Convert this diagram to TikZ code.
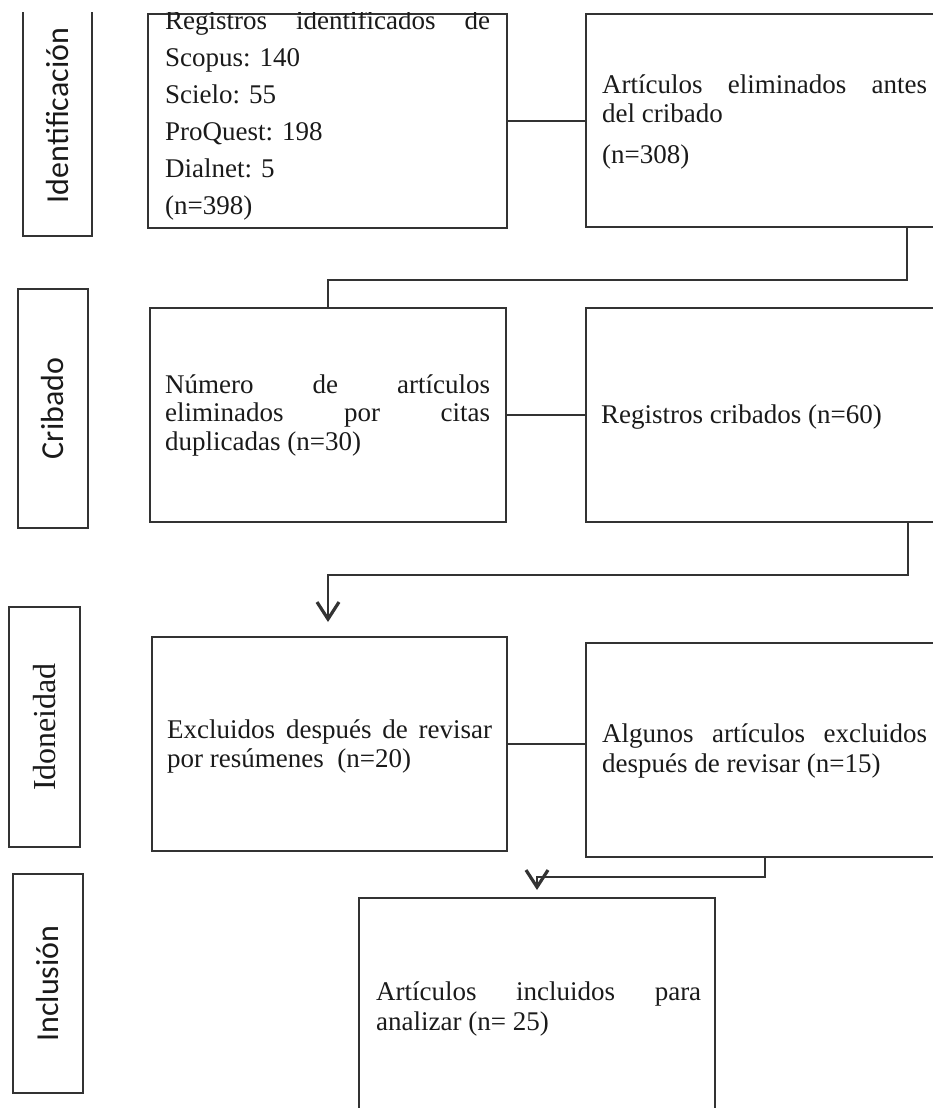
\documentclass[tikz,border=0pt]{standalone}
\usepackage{fontspec}
\setmainfont{Liberation Serif}
\newfontfamily\etiqfont{Carlito}
\usetikzlibrary{arrows.meta}

\definecolor{gristrazo}{HTML}{333333}
\definecolor{gristexto}{HTML}{1A1A1A}

% lineas de texto
\newcommand{\linea}[1]{\hbox{#1}}
\newcommand{\lineajus}[1]{\hbox{\makebox[325pt][s]{#1}}}
\newcommand{\bloque}[2]{\vtop{\baselineskip=#1\lineskiplimit=-\maxdimen #2}}

\tikzset{
  caja/.style={draw=gristrazo, line width=2.6pt, inner sep=0pt},
  etiqueta/.style={draw=gristrazo, line width=2.6pt, inner sep=0pt, rotate=90,
    text=gristexto, font=\fontsize{32}{36}\selectfont},
  texto/.style={anchor=base west, inner sep=0pt, text=gristexto,
    font=\fontsize{27}{29}\selectfont},
  conector/.style={draw=gristrazo, line width=2.6pt},
  flecha/.style={-{Straight Barb[length=17pt,width=22pt,line width=3.2pt]}}
}

\begin{document}
\begin{tikzpicture}[x=1pt,y=-1pt]
\useasboundingbox (0,0) rectangle (933,1108);
\begin{scope}
\clip (0,12.5) rectangle (933,1108);

% etapas
\node[etiqueta, minimum width=241pt, minimum height=69pt] (lid) at (57.5,115.5) {\etiqfont Identificación};
\node[etiqueta, minimum width=239pt, minimum height=70pt] (lcrib) at (53,408.5) {\etiqfont Cribado};
\node[etiqueta, minimum width=240pt, minimum height=71pt] (lidon) at (44.5,727) {Idoneidad};
\node[etiqueta, minimum width=219pt, minimum height=70pt] (lincl) at (48,983.5) {\etiqfont Inclusión};

% cajas
\node[caja, minimum width=359pt, minimum height=214pt] (b1) at (327.5,121) {};
\node[caja, minimum width=374pt, minimum height=213pt] (b2) at (773,120.5) {};
\node[caja, minimum width=356pt, minimum height=214pt] (b3) at (328,415) {};
\node[caja, minimum width=374pt, minimum height=214pt] (b4) at (773,415) {};
\node[caja, minimum width=355pt, minimum height=214pt] (b5) at (329.5,744) {};
\node[caja, minimum width=374pt, minimum height=214pt] (b6) at (773,750) {};
\node[caja, minimum width=356pt, minimum height=232pt] (b7) at (537,1014) {};

% textos
\node[texto] (t1) at (165,30) {\bloque{37pt}{\lineajus{Registros identificados de}\linea{Scopus: 140}\linea{Scielo: 55}\linea{ProQuest: 198}\linea{Dialnet: 5}\linea{(n=398)}}};
\node[texto] (t2) at (602,93) {\bloque{29pt}{\lineajus{Artículos eliminados antes}\linea{del cribado}\vskip12pt\linea{(n=308)}}};
\node[texto] (t3) at (165,393) {\bloque{28.5pt}{\lineajus{Número de artículos}\lineajus{eliminados por citas}\linea{duplicadas (n=30)}}};
\node[texto] (t4) at (601,423) {Registros cribados (n=60)};
\node[texto] (t5) at (167,738) {\bloque{29pt}{\lineajus{Excluidos después de revisar}\linea{por resúmenes\ \ (n=20)}}};
\node[texto] (t6) at (602,742) {\bloque{30pt}{\lineajus{Algunos artículos excluidos}\linea{después de revisar (n=15)}}};
\node[texto] (t7) at (376,1000) {\bloque{30pt}{\lineajus{Artículos incluidos para}\linea{analizar (n= 25)}}};

% conectores
\coordinate (kA) at (907,280);
\coordinate (kB) at (908,575);
\coordinate (kC) at (328,622);
\coordinate (kD) at (765,877);
\coordinate (kE) at (537,890);
\draw[conector] (b1.east) -- (b1.east -| b2.west);
\draw[conector] (b2.south -| kA) -- (kA) -| (b3.north);
\draw[conector] (b3.east) -- (b4.west);
\draw[conector, flecha] (b4.south -| kB) -- (kB) -| (kC);
\draw[conector] (b5.east) -- (b5.east -| b6.west);
\draw[conector, flecha] (b6.south -| kD) -- (kD) -| (kE);
\end{scope}
\end{tikzpicture}
\end{document}
